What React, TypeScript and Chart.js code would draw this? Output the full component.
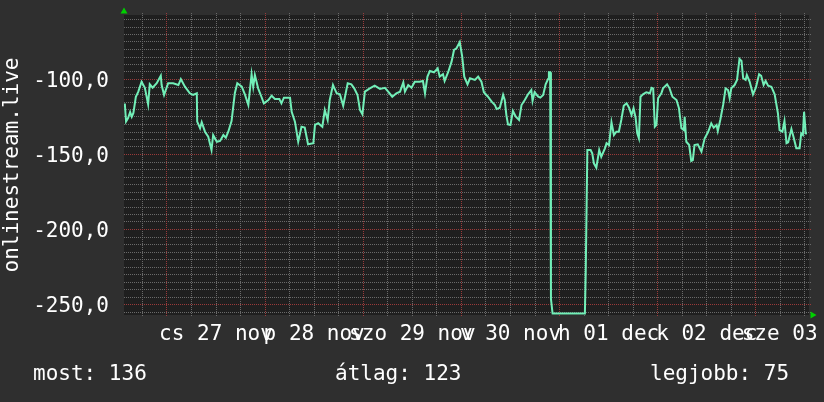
import React, { useEffect, useRef } from 'react';
import { Chart, registerables } from 'chart.js';

Chart.register(...registerables);

// Hours relative to 27 Nov 00:00
const hours = [
  -10.3, -10.0, -9.5, -9.0, -8.6, -8.2, -7.6, -7.0, -6.2, -5.4,
  -4.6, -4.2, -3.5, -2.5, -1.5, -1.3, -0.7, 0.3, 1.5, 2.8,
  3.4, 4.4, 5.6, 6.4, 7.3, 7.4, 8.1, 8.5, 9.3, 10.1,
  10.9, 11.3, 12.2, 13.0, 13.8, 14.4, 15.0, 15.8, 16.6, 17.2,
  18.3, 19.1, 19.9, 20.7, 21.1, 21.5, 22.3, 23.1, 23.7, 24.8,
  25.6, 26.4, 27.5, 28.0, 28.6, 30.1, 30.5, 31.3, 32.1, 32.9,
  33.7, 34.5, 35.8, 36.2, 37.0, 38.0, 38.6, 39.3, 39.8, 40.6,
  41.5, 42.3, 43.1, 44.2, 45.1, 45.8, 46.6, 47.2, 47.8, 48.4,
  49.6, 50.8, 52.1, 53.3, 54.1, 55.1, 56.1, 57.0, 57.8, 58.2,
  59.0, 59.8, 60.6, 61.8, 62.6, 63.1, 63.7, 64.3, 65.3, 66.2,
  66.7, 67.5, 67.9, 68.8, 69.6, 70.2, 70.8, 71.6, 72.2, 72.7,
  73.5, 74.1, 75.3, 76.1, 76.9, 77.5, 78.5, 79.4, 80.2, 80.6,
  81.4, 82.2, 82.6, 83.0, 83.4, 84.0, 84.6, 85.3, 86.1, 86.7,
  87.5, 88.3, 89.1, 89.4, 89.9, 90.8, 91.3, 92.0, 92.6, 93.2,
  93.4, 93.7, 93.9, 94.3, 101.9, 102.2, 102.4, 102.8, 103.6, 104.0,
  104.4, 105.0, 105.7, 106.2, 107.1, 107.5, 108.1, 108.7, 109.3, 109.9,
  110.5, 111.1, 111.7, 112.4, 113.0, 113.6, 114.1, 114.6, 115.0, 115.4,
  115.8, 116.4, 117.2, 118.1, 118.5, 118.9, 119.3, 119.7, 120.1, 120.9,
  121.3, 122.3, 122.9, 123.6, 124.6, 125.2, 125.8, 126.4, 126.6, 127.0,
  127.7, 128.2, 128.6, 129.0, 129.8, 130.7, 131.5, 132.3, 133.1, 133.7,
  134.4, 134.7, 135.3, 136.0, 136.6, 137.2, 137.6, 138.0, 138.8, 139.4,
  140.0, 140.5, 140.9, 141.5, 141.8, 142.5, 143.3, 144.0, 144.8, 145.3,
  145.9, 146.4, 147.0, 147.8, 148.6, 149.4, 149.8, 150.5, 151.0, 151.5,
  151.9, 152.7, 153.2, 153.9, 154.7, 155.1, 155.5, 155.8, 156.2, 156.5,
];

const values = [
  -116, -128, -125.7, -121.7, -124.8, -122.3, -111.5, -108.1, -101.5, -105.5,
  -116.5, -103.2, -105.5, -102.5, -97.5, -103.7, -110.3, -102.5, -102.5, -103.7,
  -99.7, -104.8, -109.2, -110.3, -109.2, -128.1, -132.5, -128.5, -134.8, -138.1,
  -147, -137, -141.5, -141, -137, -138.8, -134.8, -127.7, -109.2, -102.5,
  -104.8, -110.3, -117, -96.5, -104.8, -97, -105.9, -111.5, -115.9, -113.7,
  -110.8, -113, -113, -115.9, -112.1, -112.1, -121.5, -128.1, -141.5, -131.5,
  -132.1, -143.2, -142.5, -130.3, -129.2, -131.5, -120.3, -127, -113.7, -103.7,
  -109.2, -109.9, -117.5, -102.5, -103.2, -105.9, -110.3, -120.3, -123.2, -108.1,
  -105.9, -104.1, -106.3, -105.5, -108.1, -111.5, -109.2, -108.1, -101.9, -108.1,
  -103.7, -105.5, -101.5, -101.5, -101, -109.2, -98.1, -94.3, -95.2, -92.5,
  -98.1, -96.5, -101, -94.8, -88.1, -80.3, -79.2, -75, -84.8, -98.1,
  -103.2, -99.2, -100.3, -98.1, -101.5, -108.5, -111.5, -114.8, -117, -119.7,
  -118.8, -110.3, -113.7, -123.7, -129.9, -130.3, -121, -124.8, -127, -117,
  -113.7, -109.9, -107, -114.3, -108.5, -111.5, -112.1, -110.3, -103.2, -99.7,
  -95.2, -95.2, -246.3, -256, -256, -256, -229, -147, -147, -149.2,
  -155.9, -158.8, -147, -151.5, -145.9, -142.5, -143.7, -128.5, -137, -134.8,
  -134.8, -127, -117.5, -115.9, -118.8, -123.7, -119.2, -125.5, -135.9, -139.2,
  -111.5, -109.9, -108.5, -109.2, -105.5, -105.9, -131.5, -130.3, -112.5, -109.2,
  -105.9, -103.2, -105.9, -111.5, -113.7, -119.2, -132.5, -133.7, -124.8, -141.5,
  -143.7, -154.3, -153.7, -143.7, -143.2, -148.1, -139.2, -135.2, -129.2, -132.1,
  -130.3, -134.3, -127, -117, -105.9, -107, -112.5, -105.9, -103.7, -100.3,
  -86.3, -87.7, -99.2, -100.3, -97, -101.5, -109.9, -105.5, -96.5, -97.5,
  -103.7, -101, -104.1, -104.8, -109.9, -122.5, -133.7, -134.8, -127.7, -142.5,
  -141.9, -133, -138.1, -145.9, -145.9, -135.9, -137, -121.5, -135.9, -136,
];

const dayLabels = ['cs 27 nov', 'p 28 nov', 'szo 29 nov', 'v 30 nov', 'h 01 dec', 'k 02 dec', 'sze 03 dec'];
const axisTitle = 'onlinestream.live';
const legendNames = ['most', 'átlag', 'legjobb'];
const legendValues = [136, 123, 75];

const X_MIN = -10.5;
const X_MAX = 157;
const Y_MIN = -257;
const Y_MAX = -57;
const X_STEP = 6;
const Y_STEP = 5;
const X_MAJOR = 24;
const Y_MAJOR = 50;

const FONT = '"DejaVu Sans Mono", monospace';
const FONT_SIZE = 21;
const BG = '#2f2f2f';
const PLOT_BG = '#1f1f1f';
const GRID_MINOR = '#6a6a6a';
const GRID_MAJOR = '#9a3a3a';
const LINE = '#72efb8';
const ARROW = '#00d000';
const TEXT = '#ffffff';

const mod = (a: number, m: number) => ((a % m) + m) % m;

const decorPlugin = {
  id: 'rrdDecor',
  beforeDraw(chart: any) {
    const { ctx, chartArea } = chart;
    ctx.save();
    ctx.fillStyle = BG;
    ctx.fillRect(0, 0, chart.width, chart.height);
    ctx.fillStyle = PLOT_BG;
    ctx.fillRect(chartArea.left, chartArea.top, chartArea.right - chartArea.left, chartArea.bottom - chartArea.top);
    ctx.restore();
  },
  beforeDatasetsDraw(chart: any) {
    const { ctx, chartArea: a, scales } = chart;
    const xs = scales.x;
    const ys = scales.y;
    ctx.save();
    const drawV = (major: boolean) => {
      xs.ticks.forEach((t: any) => {
        if ((mod(t.value, X_MAJOR) === 0) !== major) return;
        const px = Math.floor(xs.getPixelForValue(t.value));
        ctx.fillStyle = major ? GRID_MAJOR : GRID_MINOR;
        for (let py = Math.round(a.top) - 2; py <= Math.round(a.bottom) + 1; py += 2) ctx.fillRect(px, py, 1, 1);
      });
    };
    const drawH = (major: boolean) => {
      ys.ticks.forEach((t: any) => {
        if ((mod(t.value, Y_MAJOR) === 0) !== major) return;
        const py = Math.floor(ys.getPixelForValue(t.value));
        ctx.fillStyle = major ? GRID_MAJOR : GRID_MINOR;
        for (let px = Math.round(a.left); px <= Math.round(a.right) + 1; px += 2) ctx.fillRect(px, py, 1, 1);
      });
    };
    drawV(false);
    drawH(false);
    drawV(true);
    drawH(true);
    ctx.restore();
  },
  afterDraw(chart: any) {
    const { ctx, chartArea } = chart;
    ctx.save();
    ctx.fillStyle = ARROW;
    ctx.beginPath();
    ctx.moveTo(chartArea.left - 3.5, chartArea.top - 1.5);
    ctx.lineTo(chartArea.left + 3.5, chartArea.top - 1.5);
    ctx.lineTo(chartArea.left, chartArea.top - 7.5);
    ctx.closePath();
    ctx.fill();
    ctx.beginPath();
    ctx.moveTo(chartArea.right + 1.5, chartArea.bottom - 3.5);
    ctx.lineTo(chartArea.right + 1.5, chartArea.bottom + 3.5);
    ctx.lineTo(chartArea.right + 7.5, chartArea.bottom);
    ctx.closePath();
    ctx.fill();
    ctx.fillStyle = TEXT;
    ctx.font = `${FONT_SIZE}px ${FONT}`;
    ctx.textBaseline = 'alphabetic';
    ctx.textAlign = 'left';
    const xs = [33, 335, 650];
    legendNames.forEach((n, i) => {
      ctx.fillText(`${n}: ${legendValues[i]}`, xs[i], 380);
    });
    ctx.restore();
  },
};

export default function App() {
  const ref = useRef<HTMLCanvasElement>(null);
  useEffect(() => {
    document.body.style.margin = '0';
    const canvas = ref.current;
    if (!canvas) return;
    const chart = new Chart(canvas, {
      type: 'line',
      data: {
        datasets: [
          {
            data: hours.map((h, i) => ({ x: h, y: values[i] })),
            borderColor: LINE,
            borderWidth: 2,
            pointRadius: 0,
            tension: 0,
            fill: false,
          },
        ],
      },
      options: {
        animation: false,
        responsive: false,
        devicePixelRatio: 1,
        events: [],
        layout: { padding: { top: 15, right: 15, bottom: 47, left: 0 } },
        plugins: { legend: { display: false }, tooltip: { enabled: false } },
        scales: {
          x: {
            type: 'linear',
            min: X_MIN,
            max: X_MAX,
            bounds: 'data',
            afterBuildTicks: (scale: any) => {
              const t = [];
              for (let v = Math.ceil(X_MIN / X_STEP) * X_STEP; v <= X_MAX; v += X_STEP) t.push({ value: v });
              scale.ticks = t;
            },
            afterFit: (scale: any) => {
              scale.height = 40;
              scale.paddingLeft = 0;
              scale.paddingRight = 0;
            },
            grid: { display: false, drawTicks: false },
            border: { display: false },
            ticks: {
              autoSkip: false,
              maxRotation: 0,
              minRotation: 0,
              padding: 7,
              color: TEXT,
              font: { family: FONT, size: FONT_SIZE },
              callback: (v: any) => {
                const n = Number(v);
                if (mod(n, X_MAJOR) === 12) return dayLabels[(n - 12) / X_MAJOR] ?? '';
                return '';
              },
            },
          },
          y: {
            type: 'linear',
            min: Y_MIN,
            max: Y_MAX,
            bounds: 'data',
            afterBuildTicks: (scale: any) => {
              const t = [];
              for (let v = Math.ceil(Y_MIN / Y_STEP) * Y_STEP; v <= Y_MAX; v += Y_STEP) t.push({ value: v });
              scale.ticks = t;
            },
            afterFit: (scale: any) => {
              scale.width = 124;
              scale.paddingTop = 0;
              scale.paddingBottom = 0;
            },
            grid: { display: false, drawTicks: false },
            border: { display: false },
            title: {
              display: true,
              text: axisTitle,
              color: TEXT,
              font: { family: FONT, size: FONT_SIZE },
              padding: { top: 0, bottom: 0 },
            },
            ticks: {
              autoSkip: false,
              padding: 15,
              labelOffset: 2,
              color: TEXT,
              font: { family: FONT, size: FONT_SIZE },
              callback: (v: any) => {
                const n = Number(v);
                if (mod(n, Y_MAJOR) === 0) return n.toFixed(1).replace('.', ',');
                return '';
              },
            },
          },
        },
      },
      plugins: [decorPlugin],
    } as any);
    return () => chart.destroy();
  }, []);
  return <canvas ref={ref} width={824} height={402} style={{ display: 'block' }} />;
}
